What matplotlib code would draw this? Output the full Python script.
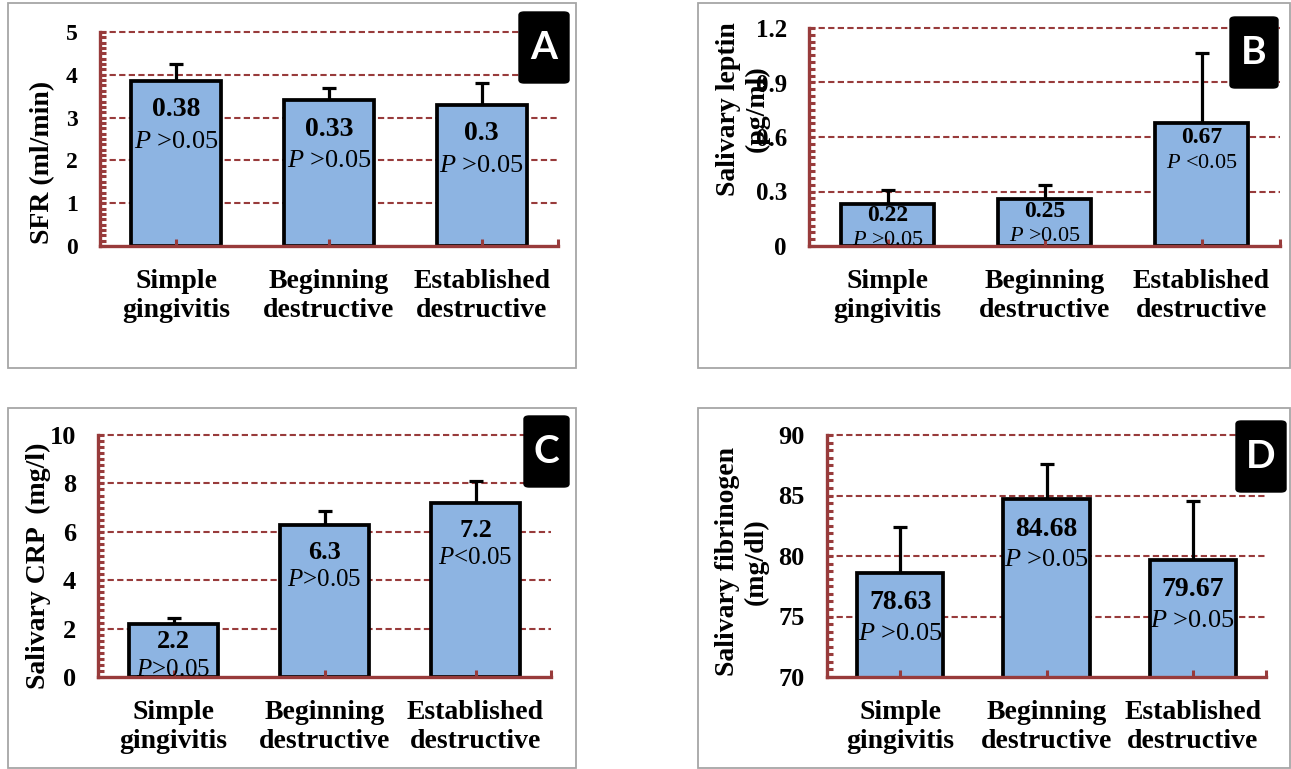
import numpy as np
import matplotlib
matplotlib.use("Agg")
import matplotlib.pyplot as plt
from matplotlib.patches import Rectangle, FancyBboxPatch
from matplotlib.ticker import MultipleLocator

plt.rcParams["font.family"] = "Liberation Serif"
plt.rcParams["mathtext.fontset"] = "custom"
plt.rcParams["mathtext.rm"] = "Liberation Serif"
plt.rcParams["mathtext.it"] = "Liberation Serif:italic"

# ---------------------------
# DATA
# ---------------------------
groups = ["Simple\ngingivitis", "Beginning\ndestructive", "Established\ndestructive"]

sfr_mean = [3.86, 3.40, 3.30]
sfr_err = [0.40, 0.30, 0.51]
sfr_text = ["0.38", "0.33", "0.3"]
sfr_p = [" >0.05", " >0.05", " >0.05"]
sfr_ticks = [0, 1, 2, 3, 4, 5]

leptin_mean = [0.23, 0.26, 0.675]
leptin_err = [0.08, 0.075, 0.39]
leptin_text = ["0.22", "0.25", "0.67"]
leptin_p = [" >0.05", " >0.05", " <0.05"]
leptin_ticks = [0, 0.3, 0.6, 0.9, 1.2]

crp_mean = [2.2, 6.3, 7.2]
crp_err = [0.24, 0.56, 0.91]
crp_text = ["2.2", "6.3", "7.2"]
crp_p = [">0.05", ">0.05", "<0.05"]
crp_ticks = [0, 2, 4, 6, 8, 10]

fib_mean = [78.63, 84.68, 79.67]
fib_err = [3.8, 2.9, 4.85]
fib_text = ["78.63", "84.68", "79.67"]
fib_p = [" >0.05", " >0.05", " >0.05"]
fib_ticks = [70, 75, 80, 85, 90]

# ---------------------------
# STYLE / LAYOUT (pixels)
# ---------------------------
W, H = 1291, 769
RED = "#983B3B"
BLUE = "#8DB4E2"
FRAME = "#A6A6A6"

fig = plt.figure(figsize=(W / 100, H / 100), dpi=100)


def fx(px):
    return px / W


def fy(py):
    return 1 - py / H


def draw_panel(frame, axbox, means, errs, vtext, ptext, ticks, minor,
               tick_fs, val_fs, p_fs, offs, ylabel, ylab_xy, letter, lbox):
    # gray frame around the panel
    x0, y0, x1, y1 = frame
    fig.add_artist(Rectangle((fx(x0), fy(y1)), fx(x1) - fx(x0), fy(y0) - fy(y1),
                             transform=fig.transFigure, fill=False,
                             ec=FRAME, lw=1.3))

    l, t, r, b = axbox
    ax = fig.add_axes([fx(l), fy(b), fx(r) - fx(l), fy(t) - fy(b)])
    x = np.arange(len(means))

    for v in ticks[1:]:
        ax.axhline(v, color=RED, lw=1.5, ls=(0, (3, 1.6)), zorder=0.5,
                   clip_on=False)

    ax.errorbar(x, means, yerr=[[0] * len(errs), errs], fmt="none",
                ecolor="black", elinewidth=2.3, capsize=5, capthick=2.3,
                zorder=1.8)
    ax.bar(x, means, width=0.59, color=BLUE, edgecolor="black",
           linewidth=2.7, zorder=2)

    ax.set_xlim(-0.5, 2.5)
    ax.set_ylim(ticks[0], ticks[-1])
    ax.set_axisbelow(False)

    for s in ["top", "right"]:
        ax.spines[s].set_visible(False)
    for s in ["left", "bottom"]:
        ax.spines[s].set_color(RED)
        ax.spines[s].set_linewidth(2.4)

    ax.set_xticks(x)
    ax.set_xticks([2.5], minor=True)
    ax.tick_params(axis="x", which="both", direction="in", length=5,
                   width=2.2, color=RED, labelbottom=False)

    ax.set_yticks(ticks)
    ax.set_yticklabels([f"{v:g}" for v in ticks], fontweight="bold")
    ax.yaxis.set_minor_locator(MultipleLocator(minor))
    ax.tick_params(axis="y", which="both", direction="in", length=4.5,
                   width=2.2, color=RED, pad=16, labelsize=tick_fs)

    # value labels inside the bars
    for i in x:
        o1, o2 = offs[i]
        ax.annotate(vtext[i], xy=(i, means[i]), xytext=(0, -o1 * 0.72),
                    textcoords="offset points", ha="center", va="center",
                    fontsize=val_fs, fontweight="bold", zorder=5)
        ax.annotate(r"$P$" + ptext[i], xy=(i, means[i]), xytext=(0, -o2 * 0.72),
                    textcoords="offset points", ha="center", va="center",
                    fontsize=p_fs, zorder=5)

    # category labels
    for i in x:
        ax.annotate(groups[i], xy=(i, 0), xycoords=("data", "axes fraction"),
                    xytext=(0, -36), textcoords="offset points",
                    ha="center", va="center", fontsize=20, fontweight="bold",
                    linespacing=1.25, annotation_clip=False)

    fig.text(fx(ylab_xy[0]), fy(ylab_xy[1]), ylabel, rotation=90,
             ha="center", va="center", fontsize=20, fontweight="bold",
             linespacing=1.2, multialignment="center")

    # black letter badge
    bx0, by0, bx1, by1 = lbox
    fig.add_artist(FancyBboxPatch((fx(bx0), fy(by1)), fx(bx1) - fx(bx0),
                                  fy(by0) - fy(by1),
                                  boxstyle="round,pad=0,rounding_size=0.004",
                                  transform=fig.transFigure, fc="black",
                                  ec="black", zorder=5))
    fig.text(fx((bx0 + bx1) / 2), fy((by0 + by1) / 2), letter, color="white",
             fontsize=28, fontweight="bold", family="Lato",
             ha="center", va="center", zorder=6)
    return ax


# A - salivary flow rate
draw_panel((8, 3, 576, 368), (100, 32, 558, 246),
           sfr_mean, sfr_err, sfr_text, sfr_p, sfr_ticks, 0.125,
           17, 20, 19, [(29, 61)] * 3,
           "SFR (ml/min)", (43, 162), "A", (519, 12, 569, 83))

# B - leptin
draw_panel((698, 3, 1290, 368), (809, 28, 1280, 246),
           leptin_mean, leptin_err, leptin_text, leptin_p, leptin_ticks, 0.0375,
           18, 17, 16, [(11, 36), (13, 38), (14, 40)],
           "Salivary leptin\n(pg/ml)", (743, 109), "B", (1230, 17, 1278, 88))

# C - CRP
draw_panel((8, 408, 576, 768), (98, 435, 551, 677),
           crp_mean, crp_err, crp_text, crp_p, crp_ticks, 0.25,
           19, 19, 18, [(18, 46), (28, 55), (28, 55)],
           "Salivary CRP  (mg/l)", (38, 566), "C", (524, 416, 569, 487))

# D - fibrinogen
draw_panel((698, 408, 1290, 768), (827, 435, 1266, 677),
           fib_mean, fib_err, fib_text, fib_p, fib_ticks, 0.625,
           19, 20, 19, [(30, 61)] * 3,
           "Salivary fibrinogen\n(mg/dl)", (742, 562), "D", (1236, 421, 1286, 492))

plt.savefig("out.png", dpi=100)
plt.close()
